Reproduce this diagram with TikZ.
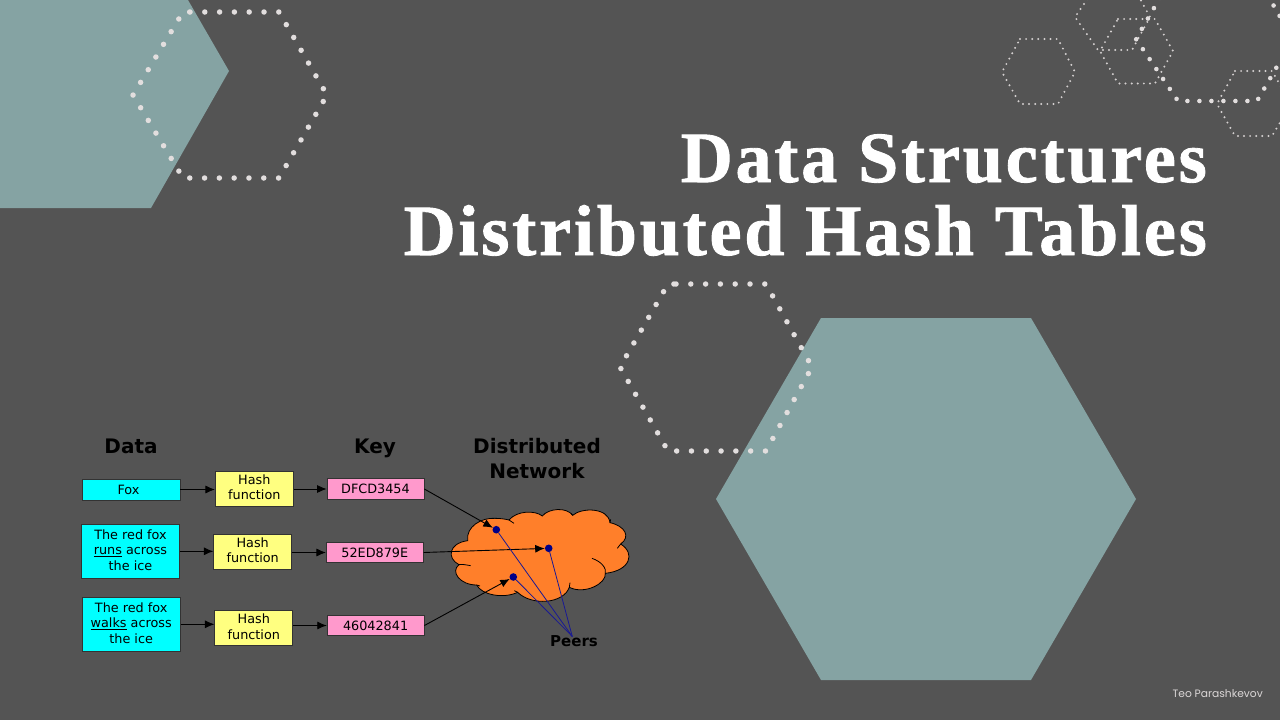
\documentclass[tikz,border=0pt]{standalone}
\usepackage{fontspec}
\setmainfont{DejaVu Sans}
\newfontfamily\titlefont{Liberation Serif}[BoldFont={Liberation Serif Bold},BoldFeatures={LetterSpace=4,FakeBold=1.2}]
\newfontfamily\footfont{Poppins}
\usetikzlibrary{arrows.meta}
\definecolor{slidebg}{HTML}{545454}
\definecolor{slideteal}{HTML}{85A3A3}
\definecolor{dotgrey}{HTML}{E2DEDE}
\definecolor{databg}{HTML}{00FFFF}
\definecolor{hashbg}{HTML}{FFFF80}
\definecolor{keybg}{HTML}{FF99CC}
\definecolor{cloudbg}{HTML}{FF7F2A}
\definecolor{peerblue}{HTML}{000088}
\tikzset{
  bigdots/.style={dotgrey, line width=5.5pt, line cap=round, dash pattern=on 0pt off 14.8pt},
  middots/.style={dotgrey, line width=4.6pt, line cap=round, dash pattern=on 0pt off 12pt},
  tinydots/.style={dotgrey!90!slidebg, line width=2.2pt, line cap=round, dash pattern=on 0pt off 6.1pt},
  boxtext/.style={font=\fontsize{12.8}{15.6}\selectfont, align=center, inner sep=0pt, draw=black!80, line width=.7pt},
  liftedtext/.style={text depth=2.5pt},
  databox/.style={boxtext, fill=databg, minimum width=98pt},
  hashbox/.style={boxtext, liftedtext, fill=hashbg, minimum width=78pt, minimum height=35pt},
  keybox/.style={boxtext, fill=keybg, minimum width=97pt, minimum height=20.5pt},
  header/.style={font=\fontsize{20}{25}\selectfont\bfseries, align=center, inner sep=0pt},
  titleline/.style={font=\fontsize{72}{72}\titlefont\bfseries, text=white, anchor=base east, inner sep=0pt},
  peer/.style={circle, fill=peerblue, inner sep=0pt, minimum size=7.6pt},
  feed/.style={-{Latex[length=9.5pt,width=8pt]}, black, line width=.9pt},
  peerline/.style={peerblue!90!white, line width=.8pt},
  cloudline/.style={draw=black, line width=.8pt}
}
\begin{document}
\begin{tikzpicture}[x=1pt, y=-1pt]
 \useasboundingbox (0,0) rectangle (1280,720);
 \fill[slidebg] (0,0) rectangle (1280,720);
 \fill[slideteal] (0,0) -- (188,0) -- (229,71) -- (151,208) -- (0,208) -- cycle;
 \draw[bigdots] (190,12) -- (279,12) -- (327,95) -- (279,178) -- (183,178) -- (133,95) -- (183,12) -- cycle;
 \fill[slideteal] (716,499) -- (821,318) -- (1031,318) -- (1136,499) -- (1031,680) -- (821,680) -- cycle;
 \draw[bigdots] (676,284) -- (766,284) -- (812,367) -- (766,451) -- (668,451) -- (620,367) -- (668,284) -- cycle;
 \draw[tinydots] (1020,39) -- (1058,39) -- (1075,72) -- (1058,104) -- (1020,104) -- (1002,72) -- cycle;
 \draw[tinydots] (1118,19) -- (1155,19) -- (1173,51) -- (1155,83.5) -- (1118,83.5) -- (1100,51) -- cycle;
 \draw[tinydots] (1098,-16) -- (1075,17) -- (1098,50) -- (1132,50) -- (1150,17) -- (1132,-16);
 \draw[tinydots] (1235,71) -- (1272,71) -- (1291,104) -- (1272,136) -- (1235,136) -- (1217,104) -- cycle;
 \draw[middots] (1172,-23) -- (1136,39) -- (1178,101) -- (1257,101) -- (1293,39) -- (1257,-23);

 \node[titleline] (title1) at (1207,182) {Data Structures};
 \node[titleline] (title2) at (1207,255) {Distributed Hash Tables};
 \node[font=\fontsize{10.7}{12}\footfont, text=dotgrey!95!slidebg, anchor=east, inner sep=0pt] (credit) at (1263,694) {Teo Parashkevov};

 \node[header] (datahead) at (131,446) {Data};
 \node[header] (keyhead) at (375,448.5) {Key};
 \node[header] (nethead) at (537,458.5) {Distributed\\Network};

 \node[databox, minimum height=21pt] (fox) at (131,489.5) {Fox\hspace*{5pt}};
 \node[databox, liftedtext, minimum height=54pt] (runs) at (130.5,551.3) {The red fox\\\underline{runs} across\\the ice};
 \node[databox, liftedtext, minimum height=54pt] (walks) at (131.2,624.3) {The red fox\\\underline{walks} across\\the ice};

 \node[hashbox] (hash1) at (254.3,488.5) {Hash\\function};
 \node[hashbox] (hash2) at (252.7,551.5) {Hash\\function};
 \node[hashbox] (hash3) at (253.8,627.7) {Hash\\function};

 \node[keybox] (key1) at (375.5,489) {DFCD3454};
 \node[keybox] (key2) at (374.8,552.5) {52ED879E};
 \node[keybox] (key3) at (375.6,625.5) {46042841};

 \begin{scope}[shift={(445,500)}, x=.3333pt, y=-.3333pt]
  \filldraw[fill=cloudbg, cloudline]
   (68,122) .. controls (62,80) and (110,52) .. (150,55)
   .. controls (165,55) and (180,57) .. (192,60)
   .. controls (215,32) and (270,30) .. (292,48)
   .. controls (310,25) and (365,20) .. (383,46)
   .. controls (410,22) and (490,22) .. (495,68)
   .. controls (540,78) and (558,110) .. (527,132)
   .. controls (572,160) and (556,212) .. (481,220)
   .. controls (485,250) and (420,285) .. (373,262)
   .. controls (355,312) and (260,318) .. (218,277)
   .. controls (175,297) and (110,285) .. (95,255)
   .. controls (45,255) and (15,215) .. (42,194)
   .. controls (5,175) and (10,130) .. (68,122) -- cycle;
  \draw[cloudline] (42,194) .. controls (52,192) and (65,195) .. (77,197);
  \draw[cloudline] (192,60) -- (207,70);
  \draw[cloudline] (527,132) -- (517,145);
  \draw[cloudline] (441,175) .. controls (470,185) and (485,205) .. (481,220);
  \draw[cloudline] (373,262) -- (375,248);
  \draw[cloudline] (218,277) -- (208,272);
  \draw[cloudline] (95,255) -- (105,258);
  \draw[cloudline] (495,68) -- (497,58);
  \draw[cloudline] (383,46) -- (378,40);
 \end{scope}

 \node[peer] (peer1) at (496.3,529.7) {};
 \node[peer] (peer2) at (548.7,548.3) {};
 \node[peer] (peer3) at (513.3,577) {};
 \node[font=\fontsize{15}{18}\selectfont\bfseries, inner sep=0pt] (peers) at (574,641) {Peers};
 \coordinate (peertip) at (572.3,636.5);

 \draw[feed] (fox) -- (hash1.west |- fox);
 \draw[feed] (runs) -- (hash2.west |- runs);
 \draw[feed] (walks) -- (hash3.west |- walks);
 \draw[feed] (hash1.east |- key1) -- (key1.west);
 \draw[feed] (hash2.east |- key2) -- (key2.west);
 \draw[feed] (hash3.east |- key3) -- (key3.west);
 \draw[feed] (key1.east) -- (peer1);
 \draw[feed] (key2.east) -- (peer2);
 \draw[feed] (key3.east) -- (peer3);
 \draw[peerline] (peer1) -- (peertip);
 \draw[peerline] (peer2) -- (peertip);
 \draw[peerline] (peer3) -- (peertip);
\end{tikzpicture}
\end{document}
